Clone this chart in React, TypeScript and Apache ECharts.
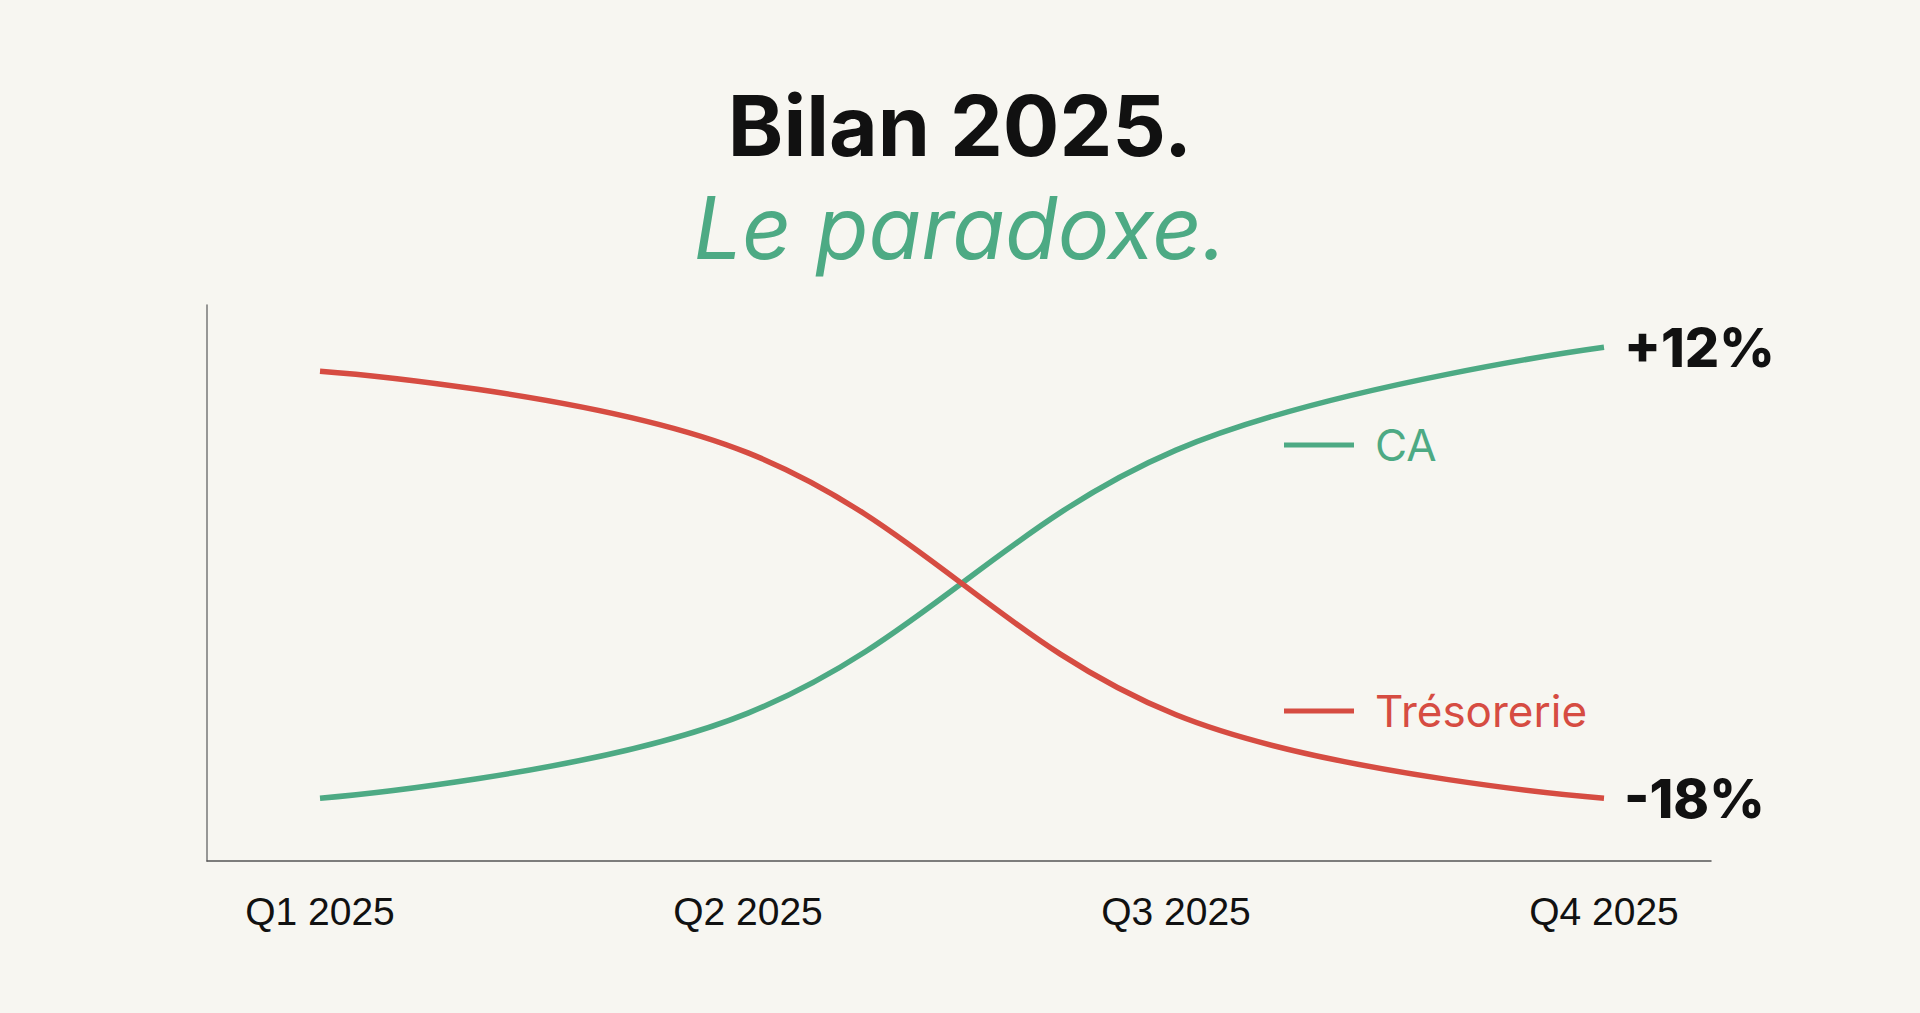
import React, { useEffect, useRef } from "react";
import * as echarts from "echarts";

const categories = ["Q1 2025", "Q2 2025", "Q3 2025", "Q4 2025"];
const caValues = [11.3, 26.6, 73.9, 92.4];
const tresoValues = [88.1, 73.4, 26.3, 11.3];
const caLabel = "+12%";
const tresoLabel = "-18%";
const seriesNames = ["CA", "Trésorerie"];

const GREEN = "#4DAA84";
const RED = "#D64C42";
const BG = "#F7F6F1";
const FONT = "Inter";

export default function App() {
  const ref = useRef<HTMLDivElement>(null);
  useEffect(() => {
    document.body.style.margin = "0";
    document.body.style.background = BG;
    const chart = echarts.init(ref.current!, null, { renderer: "svg" });
    chart.setOption({
      animation: false,
      backgroundColor: BG,
      title: {
        text: "Bilan 2025.",
        subtext: "Le paradoxe.",
        left: "center",
        top: 78,
        itemGap: 18,
        textStyle: { fontFamily: FONT, fontSize: 84, fontWeight: 700, color: "#111" },
        subtextStyle: { fontFamily: FONT, fontSize: 86, fontStyle: "italic", fontWeight: 400, color: GREEN },
      },
      legend: [
        {
          data: [seriesNames[0]],
          left: 1279,
          top: 418,
          icon: "rect",
          itemWidth: 70,
          itemHeight: 5,
          textStyle: { fontFamily: FONT, fontSize: 44, color: GREEN, padding: [0, 0, 0, 16] },
          selectedMode: false,
        },
        {
          data: [seriesNames[1]],
          left: 1279,
          top: 684,
          icon: "rect",
          itemWidth: 70,
          itemHeight: 5,
          textStyle: { fontFamily: FONT, fontSize: 44, color: RED, padding: [0, 0, 0, 16] },
          selectedMode: false,
        },
      ],
      grid: [
        { left: 207, right: 209, top: 305, bottom: 152 },
        { left: 320, right: 316, top: 305, bottom: 152 },
      ],
      xAxis: [
        {
          gridIndex: 0,
          type: "value",
          min: 0,
          max: 1,
          axisLine: { show: true, lineStyle: { color: "#555", width: 1.5 } },
          axisTick: { show: false },
          axisLabel: { show: false },
          splitLine: { show: false },
        },
        {
          gridIndex: 1,
          type: "category",
          data: categories,
          boundaryGap: false,
          axisLine: { show: false },
          axisTick: { show: false },
          axisLabel: { fontFamily: "Liberation Sans", fontSize: 39, color: "#111", margin: 31 },
          splitLine: { show: false },
        },
      ],
      yAxis: [
        {
          gridIndex: 0,
          type: "value",
          min: 0,
          max: 1,
          axisLine: { show: true, lineStyle: { color: "#777", width: 1.5 } },
          axisTick: { show: false },
          axisLabel: { show: false },
          splitLine: { show: false },
        },
        {
          gridIndex: 1,
          type: "value",
          min: 0,
          max: 100,
          show: false,
          splitLine: { show: false },
        },
      ],
      series: [
        {
          name: seriesNames[0],
          type: "line",
          xAxisIndex: 1,
          yAxisIndex: 1,
          data: caValues,
          smooth: 0.38,
          showSymbol: false,
          color: GREEN,
          lineStyle: { width: 5.5, color: GREEN },
          endLabel: {
            show: true,
            formatter: () => caLabel,
            distance: 20,
            fontFamily: FONT,
            fontSize: 54,
            fontWeight: 800,
            color: "#111",
          },
        },
        {
          name: seriesNames[1],
          type: "line",
          xAxisIndex: 1,
          yAxisIndex: 1,
          data: tresoValues,
          smooth: 0.38,
          showSymbol: false,
          color: RED,
          lineStyle: { width: 5.5, color: RED },
          endLabel: {
            show: true,
            formatter: () => tresoLabel,
            distance: 20,
            fontFamily: FONT,
            fontSize: 54,
            fontWeight: 800,
            color: "#111",
          },
        },
      ],
    });
    return () => chart.dispose();
  }, []);
  return <div ref={ref} style={{ width: 1920, height: 1013 }} />;
}
